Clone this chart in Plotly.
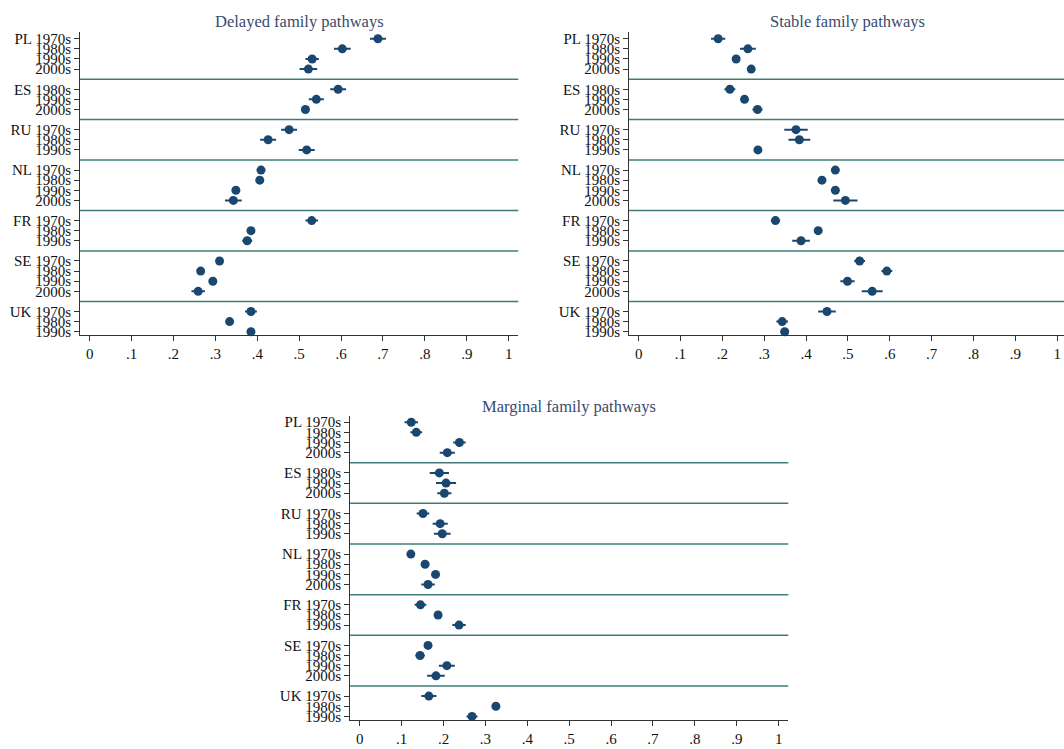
import plotly.graph_objects as go

# ---------------- data ----------------
countries = ["PL", "ES", "RU", "NL", "FR", "SE", "UK"]
decades = [
    ["1970s", "1980s", "1990s", "2000s"],
    ["1980s", "1990s", "2000s"],
    ["1970s", "1980s", "1990s"],
    ["1970s", "1980s", "1990s", "2000s"],
    ["1970s", "1980s", "1990s"],
    ["1970s", "1980s", "1990s", "2000s"],
    ["1970s", "1980s", "1990s"],
]
panel_titles = ["Delayed family pathways", "Stable family pathways", "Marginal family pathways"]

delayed_est = [0.688, 0.603, 0.531, 0.522, 0.593, 0.541, 0.515, 0.476, 0.426, 0.518,
               0.409, 0.406, 0.349, 0.343, 0.530, 0.385, 0.376, 0.310, 0.265, 0.294,
               0.259, 0.385, 0.334, 0.385]
delayed_ci = [0.019, 0.020, 0.016, 0.021, 0.019, 0.018, 0.007, 0.019, 0.019, 0.019,
              0.010, 0.007, 0.007, 0.020, 0.015, 0.007, 0.012, 0.007, 0.007, 0.007,
              0.016, 0.014, 0.007, 0.009]

stable_est = [0.190, 0.261, 0.233, 0.269, 0.218, 0.253, 0.284, 0.376, 0.384, 0.285,
              0.470, 0.438, 0.470, 0.494, 0.327, 0.429, 0.388, 0.528, 0.593, 0.499,
              0.558, 0.450, 0.343, 0.349]
stable_ci = [0.017, 0.019, 0.007, 0.008, 0.013, 0.008, 0.012, 0.028, 0.026, 0.008,
             0.007, 0.007, 0.007, 0.029, 0.011, 0.007, 0.021, 0.013, 0.013, 0.017,
             0.025, 0.021, 0.014, 0.010]

marginal_est = [0.123, 0.135, 0.238, 0.209, 0.190, 0.206, 0.202, 0.151, 0.192, 0.197,
                0.122, 0.156, 0.181, 0.163, 0.145, 0.187, 0.237, 0.163, 0.144, 0.208,
                0.182, 0.165, 0.325, 0.268]
marginal_ci = [0.016, 0.014, 0.015, 0.018, 0.023, 0.024, 0.017, 0.015, 0.018, 0.020,
               0.009, 0.007, 0.007, 0.016, 0.014, 0.007, 0.016, 0.007, 0.011, 0.019,
               0.021, 0.018, 0.009, 0.013]

x_tickvals = [0, 0.1, 0.2, 0.3, 0.4, 0.5, 0.6, 0.7, 0.8, 0.9, 1.0]
x_ticktext = ["0", ".1", ".2", ".3", ".4", ".5", ".6", ".7", ".8", ".9", "1"]

# ---------------- row layout ----------------
row_pos, row_text, sep_pos = [], [], []
slot = 0
for ci, (c, decs) in enumerate(zip(countries, decades)):
    if ci > 0:
        sep_pos.append(slot)
        slot += 1
    for di, d in enumerate(decs):
        row_pos.append(slot)
        row_text.append(f"{c} {d}" if di == 0 else d)
        slot += 1

W, H = 1064, 749
NAVY = "#1a476f"
TEAL = "#3f7c78"
AXC = "#333333"
FONT = "Liberation Serif, Times New Roman, serif"

panels = [
    dict(est=delayed_est, ci=delayed_ci, xd=(80 / W, 518.3 / W), xr=[-0.023, 1.023],
         yd=(1 - 336.7 / H, 1 - 31.7 / H), tx=299, ty=21),
    dict(est=stable_est, ci=stable_ci, xd=(629 / W, 1.0), xr=[-0.023, 1.0163],
         yd=(1 - 336.7 / H, 1 - 31.7 / H), tx=847, ty=21),
    dict(est=marginal_est, ci=marginal_ci, xd=(350.1 / W, 788.3 / W), xr=[-0.023, 1.023],
         yd=(1 - 724 / H, 1 - 417.7 / H), tx=569.4, ty=408.6),
]

fig = go.Figure()
layout = dict(width=W, height=H, margin=dict(l=0, r=0, t=0, b=0),
              plot_bgcolor="white", paper_bgcolor="white", showlegend=False,
              font=dict(family=FONT, size=15, color="#111111"))
shapes, annotations = [], []

for i, p in enumerate(panels):
    k = "" if i == 0 else str(i + 1)
    fig.add_trace(go.Scatter(
        x=p["est"], y=row_pos, mode="markers",
        xaxis="x" + k, yaxis="y" + k,
        marker=dict(color=NAVY, size=9, line=dict(width=0)),
        error_x=dict(type="data", array=p["ci"], symmetric=True, width=0,
                     thickness=2, color=NAVY),
        cliponaxis=False,
    ))
    layout["xaxis" + k] = dict(
        domain=list(p["xd"]), range=p["xr"], anchor="y" + k,
        tickvals=x_tickvals, ticktext=x_ticktext, ticks="outside", ticklen=5,
        tickcolor=AXC, showline=True, linecolor=AXC, linewidth=1,
        showgrid=False, zeroline=False, tickfont=dict(size=15, family=FONT, color="#111111"),
    )
    layout["yaxis" + k] = dict(
        domain=list(p["yd"]), range=[29.37, -0.62], anchor="x" + k,
        tickvals=row_pos, ticktext=row_text, ticks="outside", ticklen=5,
        tickcolor=AXC, showline=True, linecolor=AXC, linewidth=1,
        showgrid=False, zeroline=False, tickfont=dict(size=15, family=FONT, color="#111111"),
    )
    for s in sep_pos:
        shapes.append(dict(type="line", xref="x" + k + " domain", yref="y" + k,
                           x0=0, x1=1, y0=s, y1=s,
                           line=dict(color=TEAL, width=1.5), layer="below"))
    annotations.append(dict(text=panel_titles[i], xref="paper", yref="paper",
                            x=p["tx"] / W, y=1 - p["ty"] / H, xanchor="center",
                            yanchor="middle", showarrow=False,
                            font=dict(family=FONT, size=16.5, color="#3a4a6e")))

layout["shapes"] = shapes
layout["annotations"] = annotations
fig.update_layout(**layout)
fig.write_html("out.html")
